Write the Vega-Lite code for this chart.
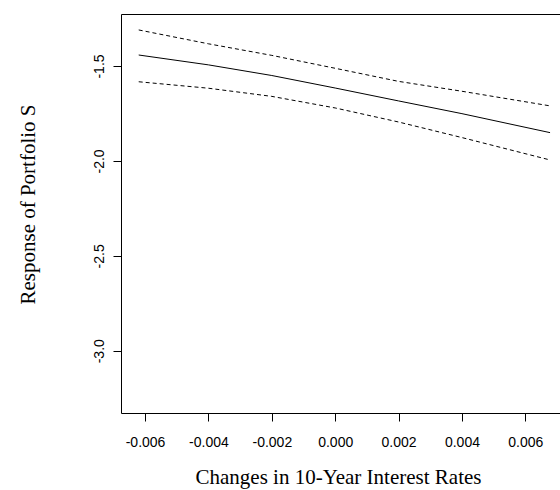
{
  "$schema": "https://vega.github.io/schema/vega-lite/v6.json",
  "width": 439,
  "height": 399,
  "autosize": {"type": "none"},
  "padding": {"left": 121, "top": 14, "right": 0, "bottom": 77},
  "background": "white",
  "config": {
    "view": {"stroke": null},
    "axis": {
      "grid": false,
      "domainColor": "black",
      "domainWidth": 1,
      "tickColor": "black",
      "tickSize": 8,
      "tickWidth": 1,
      "labelFont": "Liberation Sans",
      "labelFontSize": 14,
      "labelColor": "black",
      "titleFont": "Liberation Serif",
      "titleFontSize": 21,
      "titleFontWeight": "normal",
      "titleColor": "black"
    }
  },
  "data": {
    "values": [
      {"x": -0.0062, "y": -1.442, "series": "estimate"},
      {"x": -0.004, "y": -1.494, "series": "estimate"},
      {"x": -0.002, "y": -1.550, "series": "estimate"},
      {"x": 0.0, "y": -1.616, "series": "estimate"},
      {"x": 0.002, "y": -1.684, "series": "estimate"},
      {"x": 0.004, "y": -1.751, "series": "estimate"},
      {"x": 0.00678, "y": -1.851, "series": "estimate"},
      {"x": -0.0062, "y": -1.310, "series": "upper"},
      {"x": -0.004, "y": -1.383, "series": "upper"},
      {"x": -0.002, "y": -1.444, "series": "upper"},
      {"x": 0.0, "y": -1.512, "series": "upper"},
      {"x": 0.002, "y": -1.581, "series": "upper"},
      {"x": 0.004, "y": -1.633, "series": "upper"},
      {"x": 0.00678, "y": -1.710, "series": "upper"},
      {"x": -0.0062, "y": -1.583, "series": "lower"},
      {"x": -0.004, "y": -1.617, "series": "lower"},
      {"x": -0.002, "y": -1.660, "series": "lower"},
      {"x": 0.0, "y": -1.721, "series": "lower"},
      {"x": 0.002, "y": -1.795, "series": "lower"},
      {"x": 0.004, "y": -1.877, "series": "lower"},
      {"x": 0.00678, "y": -1.995, "series": "lower"}
    ]
  },
  "layer": [
    {
      "transform": [{"filter": "datum.series === 'estimate'"}],
      "mark": {"type": "line", "color": "black", "strokeWidth": 1},
      "encoding": {
        "x": {
          "field": "x", "type": "quantitative",
          "scale": {"domain": [-0.006759, 0.007094], "nice": false, "zero": false},
          "axis": {
            "orient": "bottom",
            "values": [-0.006, -0.004, -0.002, 0, 0.002, 0.004, 0.006],
            "format": ".3f",
            "labelExpr": "replace(datum.label, '\u2212', '-')",
            "labelPadding": 14,
            "title": "Changes in 10-Year Interest Rates",
            "titleBaseline": "middle",
            "titleX": 217,
            "titleY": 64
          }
        },
        "y": {
          "field": "y", "type": "quantitative",
          "scale": {"domain": [-3.328, -1.226], "nice": false, "zero": false},
          "axis": {
            "values": [-3.0, -2.5, -2.0, -1.5],
            "format": ".1f",
            "labelExpr": "replace(datum.label, '\u2212', '-')",
            "labelAngle": -90,
            "labelAlign": "center",
            "labelBaseline": "bottom",
            "labelPadding": 7,
            "title": "Response of Portfolio S",
            "titleAngle": -90,
            "titleBaseline": "middle",
            "titleAlign": "center",
            "titleX": -93,
            "titleY": 190
          }
        }
      }
    },
    {
      "transform": [{"filter": "datum.series !== 'estimate'"}],
      "mark": {"type": "line", "color": "black", "strokeWidth": 1, "strokeDash": [4, 3]},
      "encoding": {
        "detail": {"field": "series"},
        "x": {
          "field": "x", "type": "quantitative",
          "axis": {"orient": "top", "labels": false, "ticks": false, "title": null}
        },
        "y": {"field": "y", "type": "quantitative"}
      }
    }
  ],
  "resolve": {"axis": {"x": "independent"}}
}
